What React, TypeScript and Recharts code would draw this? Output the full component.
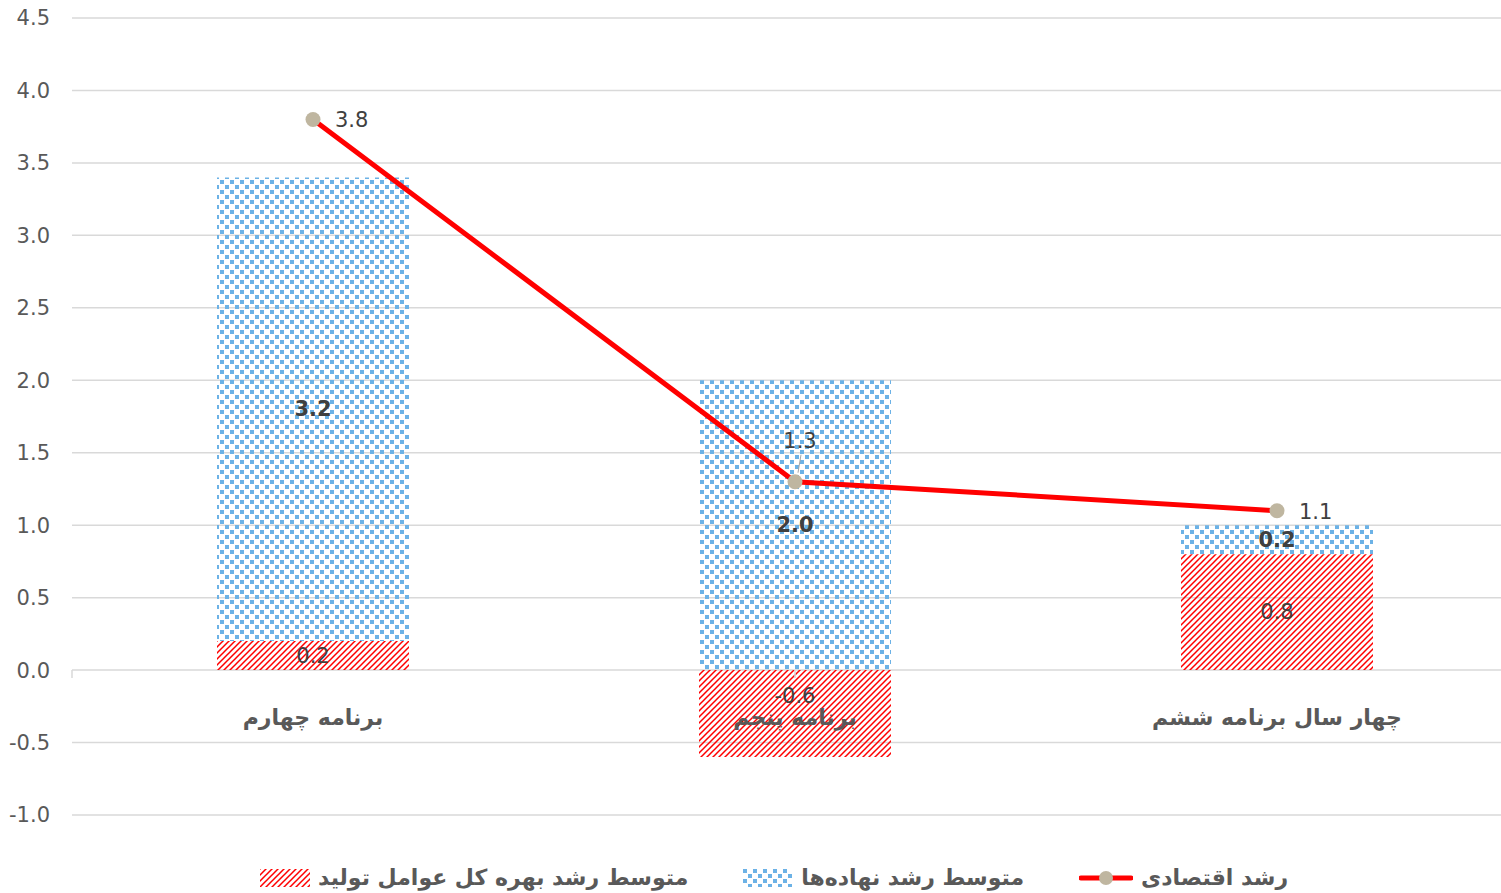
import React from "react";
import {
  Bar,
  CartesianGrid,
  ComposedChart,
  LabelList,
  Legend,
  Line,
  ReferenceLine,
  XAxis,
  YAxis,
} from "recharts";

const categories = ["برنامه چهارم", "برنامه پنجم", "چهار سال برنامه ششم"];
const tfpGrowth = [0.2, -0.6, 0.8];
const inputGrowth = [3.2, 2.0, 0.2];
const economicGrowth = [3.8, 1.3, 1.1];
const yTicks = [-1, -0.5, 0, 0.5, 1, 1.5, 2, 2.5, 3, 3.5, 4, 4.5];
const categoryEdges = [0, 1, 2, 3];
const legendOrder = ["tfp", "inputs", "growth"];

const TFP_NAME = "متوسط رشد بهره کل عوامل تولید";
const INPUT_NAME = "متوسط رشد نهاده‌ها";
const GROWTH_NAME = "رشد اقتصادی";

const RED = "#ff0000";
const BLUE = "#6cb2e6";
const MARKER = "#bfb6a0";
const AXIS_TEXT = "#595959";
const LABEL_TEXT = "#404040";
const GRID = "#d9d9d9";
const FONT = "'DejaVu Sans', 'Liberation Sans', Arial, sans-serif";

const data = categories.map((name, i) => ({
  name,
  tfp: tfpGrowth[i],
  inputs: inputGrowth[i],
  growth: economicGrowth[i],
}));

function CategoryTick(props: any) {
  const { x, y, payload } = props;
  return (
    <text
      x={x}
      y={y}
      dy={-98}
      textAnchor="middle"
      dominantBaseline="central"
      fontSize={22}
      fontWeight="bold"
      fill={AXIS_TEXT}
      fontFamily={FONT}
    >
      {payload.value}
    </text>
  );
}

function BarValueLabel(props: any) {
  const { x, y, width, height, value, bold } = props;
  const cx = x + width / 2;
  // Excel nudges the negative label up toward the axis
  const cy = y + height / 2 + (value < 0 ? -18 : 0);
  return (
    <text
      x={cx}
      y={cy}
      textAnchor="middle"
      dominantBaseline="central"
      direction="ltr"
      fontSize={21}
      fontWeight={bold ? "bold" : "normal"}
      fill={LABEL_TEXT}
      fontFamily={FONT}
    >
      {Number(value).toFixed(1)}
    </text>
  );
}

function GrowthLabel(props: any) {
  const { x, y, value, index } = props;
  if (index === 1) {
    return (
      <g>
        <line x1={x + 3} y1={y - 9} x2={x + 6} y2={y - 27} stroke="#a6a6a6" strokeWidth={1} />
        <text
          x={x + 5}
          y={y - 41}
          textAnchor="middle"
          dominantBaseline="central"
          fontSize={21}
          fill={LABEL_TEXT}
          fontFamily={FONT}
        >
          {Number(value).toFixed(1)}
        </text>
      </g>
    );
  }
  return (
    <text
      x={x + 22}
      y={y + 1}
      textAnchor="start"
      dominantBaseline="central"
      fontSize={21}
      fill={LABEL_TEXT}
      fontFamily={FONT}
    >
      {Number(value).toFixed(1)}
    </text>
  );
}

function Swatch({ type }: { type: string }) {
  if (type === "growth") {
    return (
      <svg width={54} height={18}>
        <line x1={2} y1={9} x2={52} y2={9} stroke={RED} strokeWidth={5} strokeLinecap="round" />
        <circle cx={27} cy={9} r={7} fill={MARKER} />
      </svg>
    );
  }
  return (
    <svg width={50} height={18}>
      <rect
        x={0}
        y={0}
        width={50}
        height={18}
        fill={type === "tfp" ? "url(#tfpPatternLegend)" : "url(#inputPatternLegend)"}
      />
    </svg>
  );
}

function LegendContent(props: any) {
  const { payload = [] } = props;
  const items = [...payload].sort(
    (a: any, b: any) => legendOrder.indexOf(a.dataKey) - legendOrder.indexOf(b.dataKey)
  );
  return (
    <div
      style={{
        display: "flex",
        justifyContent: "center",
        alignItems: "center",
        gap: 55,
        paddingLeft: 30,
        paddingTop: 8,
        fontFamily: FONT,
      }}
    >
      <svg width={0} height={0} style={{ position: "absolute" }}>
        <defs>
          <pattern id="tfpPatternLegend" width={6} height={6} patternUnits="userSpaceOnUse">
            <path d="M-1,7 L7,-1 M-1,1 L1,-1 M5,7 L7,5" stroke={RED} strokeWidth={1.5} />
          </pattern>
          <pattern id="inputPatternLegend" width={10} height={10} patternUnits="userSpaceOnUse">
            <rect x={0} y={0} width={4} height={4} fill={BLUE} />
            <rect x={5} y={5} width={4} height={4} fill={BLUE} />
          </pattern>
        </defs>
      </svg>
      {items.map((item: any) => (
        <div key={item.dataKey} style={{ display: "flex", alignItems: "center", gap: 8 }}>
          <Swatch type={item.dataKey} />
          <span style={{ fontSize: 22, fontWeight: "bold", color: AXIS_TEXT }}>{item.value}</span>
        </div>
      ))}
    </div>
  );
}

export default function App() {
  return (
    <div
      style={{
        position: "absolute",
        left: 0,
        top: 0,
        width: 1501,
        height: 893,
        overflow: "hidden",
        background: "#ffffff",
      }}
    >
      <ComposedChart
        width={1520}
        height={893}
        data={data}
        stackOffset="sign"
        margin={{ top: 18, right: 2, left: 0, bottom: 0 }}
        style={{ fontFamily: FONT }}
      >
        <defs>
          <pattern id="tfpPattern" width={6} height={6} patternUnits="userSpaceOnUse">
            <path d="M-1,7 L7,-1 M-1,1 L1,-1 M5,7 L7,5" stroke={RED} strokeWidth={1.5} />
          </pattern>
          <pattern id="inputPattern" width={10} height={10} patternUnits="userSpaceOnUse">
            <rect x={0} y={0} width={4} height={4} fill={BLUE} />
            <rect x={5} y={5} width={4} height={4} fill={BLUE} />
          </pattern>
        </defs>
        <CartesianGrid vertical={false} stroke={GRID} strokeWidth={1.5} />
        <XAxis
          dataKey="name"
          height={42}
          axisLine={false}
          tickLine={false}
          tickSize={0}
          tickMargin={0}
          tick={<CategoryTick />}
          interval={0}
        />
        <XAxis xAxisId="num" type="number" domain={[0, 3]} hide />
        <YAxis
          width={72}
          domain={[-1, 4.5]}
          ticks={yTicks}
          tickFormatter={(v) => Number(v).toFixed(1)}
          axisLine={false}
          tickLine={false}
          tickSize={0}
          tickMargin={22}
          tick={{ fontSize: 21, fill: AXIS_TEXT, fontFamily: FONT }}
          interval={0}
        />
        {categoryEdges.map((edge) => (
          <ReferenceLine
            key={edge}
            xAxisId="num"
            segment={[
              { x: edge, y: 0 },
              { x: edge, y: -0.055 },
            ]}
            stroke={GRID}
            strokeWidth={1.5}
          />
        ))}
        <Legend verticalAlign="bottom" height={36} content={<LegendContent />} />
        <Bar
          dataKey="tfp"
          name={TFP_NAME}
          stackId="a"
          barSize={192}
          fill="url(#tfpPattern)"
          isAnimationActive={false}
        >
          <LabelList dataKey="tfp" content={<BarValueLabel />} />
        </Bar>
        <Bar
          dataKey="inputs"
          name={INPUT_NAME}
          stackId="a"
          barSize={192}
          fill="url(#inputPattern)"
          isAnimationActive={false}
        >
          <LabelList dataKey="inputs" content={<BarValueLabel bold />} />
        </Bar>
        <Line
          dataKey="growth"
          name={GROWTH_NAME}
          stroke={RED}
          strokeWidth={5}
          dot={{ r: 7.5, fill: MARKER, stroke: "none" }}
          activeDot={false}
          isAnimationActive={false}
        >
          <LabelList dataKey="growth" content={<GrowthLabel />} />
        </Line>
      </ComposedChart>
    </div>
  );
}
